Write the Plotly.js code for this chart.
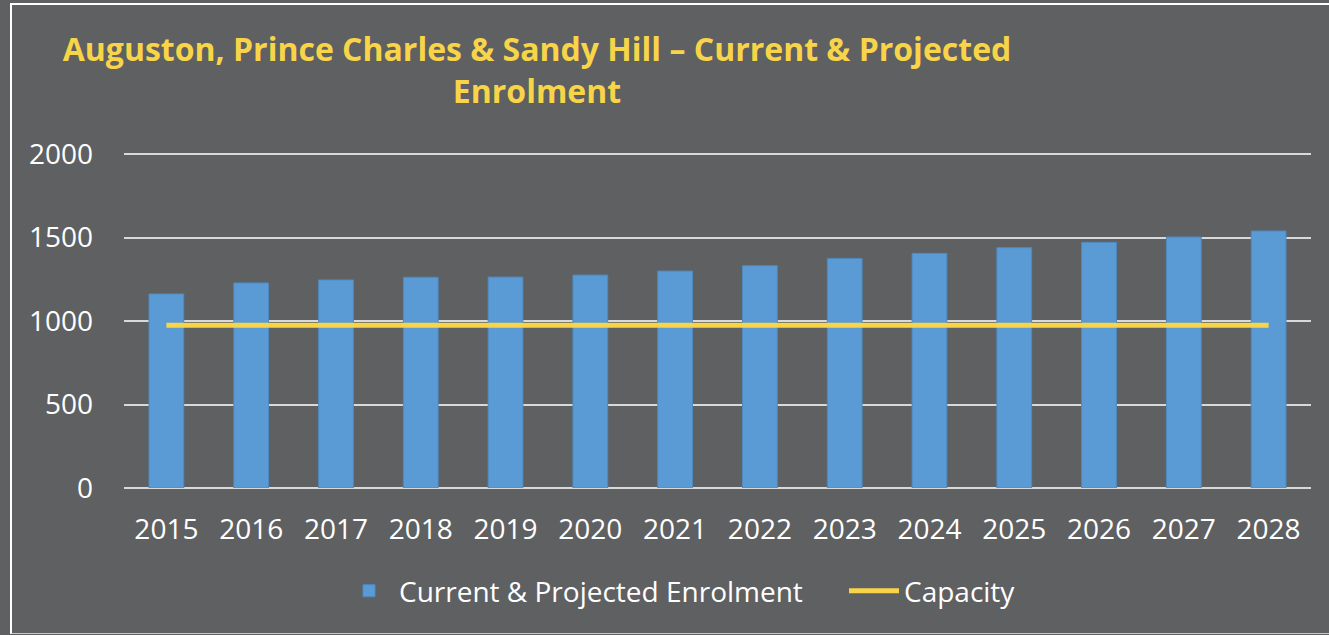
<!DOCTYPE html>
<html>
<head>
<meta charset="utf-8">
<script src="https://cdn.plot.ly/plotly-3.0.1.min.js"></script>
<style>
  html, body { margin: 0; padding: 0; background: #5f6062; }
  #chart { position: absolute; left: 0; top: 0; width: 1329px; height: 635px; }
  #frame { position: absolute; left: 10px; top: 3px; width: 1330px; height: 628px;
           border-left: 2px solid #ffffff; border-top: 2px solid #ffffff; border-bottom: 1px solid #c8c8c8;
           pointer-events: none; }
</style>
</head>
<body>
<div id="chart"></div>
<div id="frame"></div>
<script>
const years = ['2015','2016','2017','2018','2019','2020','2021','2022','2023','2024','2025','2026','2027','2028'];
const enrolment = [1162, 1228, 1246, 1262, 1263, 1275, 1299, 1331, 1375, 1405, 1439, 1471, 1503, 1539];
const capacity = [975, 975, 975, 975, 975, 975, 975, 975, 975, 975, 975, 975, 975, 975];
const yTicks = [0, 500, 1000, 1500, 2000];

const bg = '#5f6062';
const traces = [
  {
    type: 'bar', x: years, y: enrolment, name: 'Current & Projected Enrolment',
    marker: { color: '#5b9bd5', line: { color: '#4f89bf', width: 1 } },
    hoverinfo: 'x+y'
  },
  {
    type: 'scatter', mode: 'lines', x: years, y: capacity, name: 'Capacity',
    line: { color: '#f8d449', width: 5 }
  }
];

const layout = {
  width: 1329, height: 635,
  paper_bgcolor: bg, plot_bgcolor: bg,
  margin: { l: 124, r: 18, t: 150, b: 147 },
  font: { family: 'Open Sans, sans-serif', color: '#ffffff', size: 28 },
  title: {
    text: 'Auguston, Prince Charles &amp; Sandy Hill – Current &amp; Projected<br>Enrolment',
    font: { family: 'Open Sans, sans-serif', size: 32, color: '#f8d449', weight: 'bold' },
    xref: 'container', x: 537 / 1329, xanchor: 'center',
    yref: 'container', y: 1 - 61 / 635, yanchor: 'top'
  },
  bargap: 0.59,
  showlegend: true,
  legend: {
    orientation: 'h', xref: 'container', yref: 'container',
    x: 339 / 1329, xanchor: 'left', y: 1 - 591 / 635, yanchor: 'middle',
    font: { size: 28, color: '#ffffff' }, bgcolor: 'rgba(0,0,0,0)',
    itemwidth: 50, entrywidth: 440, traceorder: 'normal'
  },
  xaxis: {
    type: 'category', showgrid: false, zeroline: false, showline: false,
    ticks: '', ticklabelstandoff: 22,
    tickfont: { size: 28, color: '#ffffff' }
  },
  yaxis: {
    range: [0, 2024], tickvals: yTicks, ticktext: yTicks.map(String),
    showgrid: true, gridcolor: '#d9d9d9', gridwidth: 2,
    zeroline: true, zerolinecolor: '#d9d9d9', zerolinewidth: 2,
    showline: false, ticks: '', ticklabelstandoff: 30,
    tickfont: { size: 28, color: '#ffffff' }
  }
};

Plotly.newPlot('chart', traces, layout, { displayModeBar: false, staticPlot: true });
</script>
</body>
</html>
